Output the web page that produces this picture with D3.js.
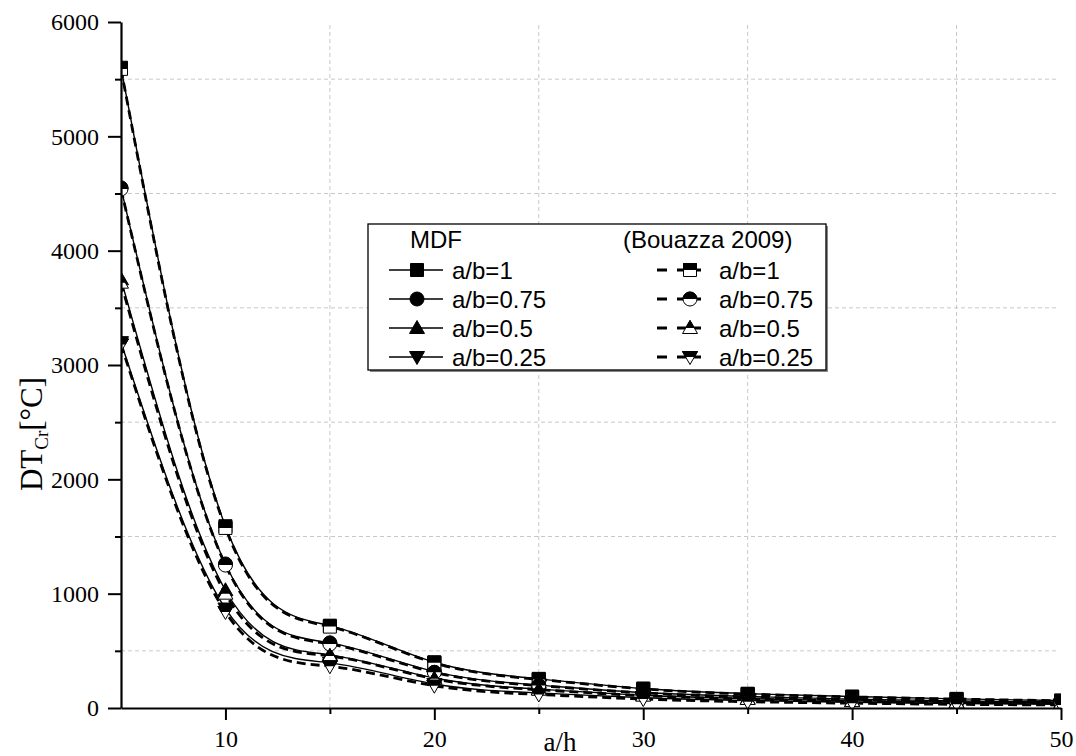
<!DOCTYPE html>
<html>
<head>
<meta charset="utf-8">
<script src="https://cdn.jsdelivr.net/npm/d3@7"></script>
<style>
  html, body { margin: 0; padding: 0; background: #fff; }
  svg { display: block; }
  .axis text { font-family: "Liberation Serif", "Times New Roman", serif; font-size: 24px; }
</style>
</head>
<body>
<svg id="chart" width="1076" height="756"></svg>
<script>
// a/h values
const aOverH = [5, 10, 15, 20, 25, 30, 35, 40, 45, 50];

// MDF results
const mdfAb1 = [5600, 1590, 720, 400, 255, 170, 125, 100, 80, 65];
const mdfAb075 = [4550, 1260, 570, 318, 200, 135, 100, 78, 62, 52];
const mdfAb05 = [3750, 1030, 465, 262, 165, 112, 82, 62, 50, 42];
const mdfAb025 = [3200, 870, 395, 210, 132, 90, 66, 50, 40, 33];

// Bouazza 2009
const bouAb1 = [5590, 1575, 712, 395, 250, 167, 122, 97, 78, 63];
const bouAb075 = [4540, 1250, 560, 312, 196, 132, 97, 76, 60, 50];
const bouAb05 = [3720, 1000, 455, 255, 160, 108, 79, 60, 48, 40];
const bouAb025 = [3180, 840, 365, 195, 118, 78, 55, 42, 32, 26];

const seriesLabels = ['a/b=1', 'a/b=0.75', 'a/b=0.5', 'a/b=0.25'];
const shapes = ['square', 'circle', 'up', 'down'];

const xMajorTicks = [10, 20, 30, 40, 50];
const xMinorTicks = [15, 25, 35, 45];
const yMajorTicks = [0, 1000, 2000, 3000, 4000, 5000, 6000];
const yMinorTicks = [500, 1500, 2500, 3500, 4500, 5500];

const svg = d3.select('#chart');
const plotLeft = 121, plotRight = 1061, plotTop = 22, plotBottom = 708;

const x = d3.scaleLinear().domain([5, 50]).range([plotLeft, plotRight]);
const y = d3.scaleLinear().domain([0, 6000]).range([plotBottom, plotTop]);

const serif = '"Liberation Serif", "Times New Roman", serif';
const sans = '"Liberation Sans", Arial, sans-serif';

const defs = svg.append('defs');
defs.append('clipPath').attr('id', 'plotClip')
    .append('rect')
    .attr('x', plotLeft).attr('y', plotTop)
    .attr('width', plotRight - plotLeft).attr('height', plotBottom - plotTop);
defs.append('clipPath').attr('id', 'topHalf')
    .append('rect')
    .attr('x', -20).attr('y', -20).attr('width', 40).attr('height', 20);

// marker shapes, centred on 0,0
function shapePath(kind) {
    if (kind === 'square') return 'M-6.5,-6.5H6.5V6.5H-6.5Z';
    if (kind === 'circle') return d3.arc()({ innerRadius: 0, outerRadius: 7, startAngle: 0, endAngle: 2 * Math.PI });
    if (kind === 'up') return 'M0,-7.5L7.5,5.5L-7.5,5.5Z';
    return 'M0,7.5L7.5,-5.5L-7.5,-5.5Z';
}

function drawMarker(g, kind, half) {
    if (!half) {
        g.append('path').attr('d', shapePath(kind))
            .attr('fill', '#000').attr('stroke', '#000').attr('stroke-width', 1);
        return;
    }
    g.append('path').attr('d', shapePath(kind))
        .attr('fill', '#fff').attr('stroke', '#000').attr('stroke-width', 1);
    g.append('path').attr('d', shapePath(kind))
        .attr('clip-path', 'url(#topHalf)')
        .attr('fill', '#000').attr('stroke', '#000').attr('stroke-width', 1);
}

// grid (dashed, at minor positions)
const grid = svg.append('g');
grid.selectAll('.hg').data(yMinorTicks).enter().append('line')
    .attr('x1', plotLeft).attr('x2', plotRight - 3)
    .attr('y1', d => y(d)).attr('y2', d => y(d))
    .attr('stroke', '#c8c8c8').attr('stroke-width', 1).attr('stroke-dasharray', '4,3');
grid.selectAll('.vg').data(xMinorTicks).enter().append('line')
    .attr('x1', d => x(d)).attr('x2', d => x(d))
    .attr('y1', plotBottom).attr('y2', plotTop)
    .attr('stroke', '#c8c8c8').attr('stroke-width', 1).attr('stroke-dasharray', '4,3');

// curves
const mdf = [mdfAb1, mdfAb075, mdfAb05, mdfAb025];
const bou = [bouAb1, bouAb075, bouAb05, bouAb025];

const line = d3.line()
    .x((d, i) => x(aOverH[i]))
    .y(d => y(d))
    .curve(d3.curveNatural);

const plot = svg.append('g').attr('clip-path', 'url(#plotClip)');

mdf.forEach(vals => {
    plot.append('path').attr('d', line(vals))
        .attr('fill', 'none').attr('stroke', '#000').attr('stroke-width', 1.4);
});
bou.forEach(vals => {
    plot.append('path').attr('d', line(vals))
        .attr('fill', 'none').attr('stroke', '#000').attr('stroke-width', 2.8)
        .attr('stroke-dasharray', '9,5');
});

mdf.forEach((vals, s) => {
    vals.forEach((v, i) => {
        const g = plot.append('g').attr('transform', `translate(${x(aOverH[i])},${y(v)})`);
        drawMarker(g, shapes[s], false);
    });
});
bou.forEach((vals, s) => {
    vals.forEach((v, i) => {
        const g = plot.append('g').attr('transform', `translate(${x(aOverH[i])},${y(v)})`);
        drawMarker(g, shapes[s], true);
    });
});

// axes
const fmt = d3.format('d');
const yAxisG = svg.append('g').attr('class', 'axis').attr('transform', `translate(${plotLeft},0)`)
    .call(d3.axisLeft(y).tickValues(yMajorTicks).tickFormat(fmt)
        .tickSize(13).tickSizeOuter(0).tickPadding(9));
const yMinor = svg.append('g').attr('transform', `translate(${plotLeft},0)`)
    .call(d3.axisLeft(y).tickValues(yMinorTicks).tickSize(6).tickFormat(''));
yMinor.select('.domain').remove();

const xAxisG = svg.append('g').attr('class', 'axis').attr('transform', `translate(0,${plotBottom})`)
    .call(d3.axisBottom(x).tickValues(xMajorTicks).tickFormat(fmt)
        .tickSize(12).tickSizeOuter(0).tickPadding(10));
const xMinor = svg.append('g').attr('transform', `translate(0,${plotBottom})`)
    .call(d3.axisBottom(x).tickValues(xMinorTicks).tickSize(6).tickFormat(''));
xMinor.select('.domain').remove();

[yAxisG, xAxisG].forEach(g => {
    g.selectAll('text')
        .style('font-family', serif).style('font-size', '24px').attr('fill', '#000');
});
svg.selectAll('.domain').attr('stroke', '#000').attr('stroke-width', 2.2);
svg.selectAll('.tick line').attr('stroke', '#000').attr('stroke-width', 2);

// axis titles
const yTitle = svg.append('text')
    .attr('transform', 'translate(42,434) rotate(-90)')
    .attr('text-anchor', 'middle')
    .attr('font-family', serif).attr('font-size', 31).attr('fill', '#000');
yTitle.append('tspan').text('DT');
yTitle.append('tspan').attr('font-size', 19).attr('dy', 6).text('Cr');
yTitle.append('tspan').attr('dy', -6).text('[°C]');

svg.append('text')
    .attr('x', 560).attr('y', 751)
    .attr('text-anchor', 'middle')
    .attr('font-family', serif).attr('font-size', 27).attr('fill', '#000')
    .text('a/h');

// legend
const lg = svg.append('g');
lg.append('rect').attr('x', 370).attr('y', 226).attr('width', 458).attr('height', 146)
    .attr('fill', '#888');
lg.append('rect').attr('x', 368).attr('y', 224).attr('width', 458).attr('height', 146)
    .attr('fill', '#fff').attr('stroke', '#000').attr('stroke-width', 1.3);

lg.append('text').attr('x', 410).attr('y', 248)
    .attr('font-family', sans).attr('font-size', 24).text('MDF');
lg.append('text').attr('x', 623).attr('y', 248)
    .attr('font-family', sans).attr('font-size', 24).text('(Bouazza 2009)');

const rowY = [270, 299, 328, 357];
seriesLabels.forEach((lab, i) => {
    const ry = rowY[i];
    lg.append('line').attr('x1', 389).attr('x2', 443).attr('y1', ry).attr('y2', ry)
        .attr('stroke', '#000').attr('stroke-width', 1.4);
    drawMarker(lg.append('g').attr('transform', `translate(417,${ry})`), shapes[i], false);
    lg.append('text').attr('x', 452).attr('y', ry + 8.5)
        .attr('font-family', sans).attr('font-size', 24).text(lab);

    lg.append('line').attr('x1', 657).attr('x2', 701).attr('y1', ry).attr('y2', ry)
        .attr('stroke', '#000').attr('stroke-width', 2.8).attr('stroke-dasharray', '10,10,24');
    drawMarker(lg.append('g').attr('transform', `translate(690,${ry})`), shapes[i], true);
    lg.append('text').attr('x', 719).attr('y', ry + 8.5)
        .attr('font-family', sans).attr('font-size', 24).text(lab);
});
</script>
</body>
</html>
